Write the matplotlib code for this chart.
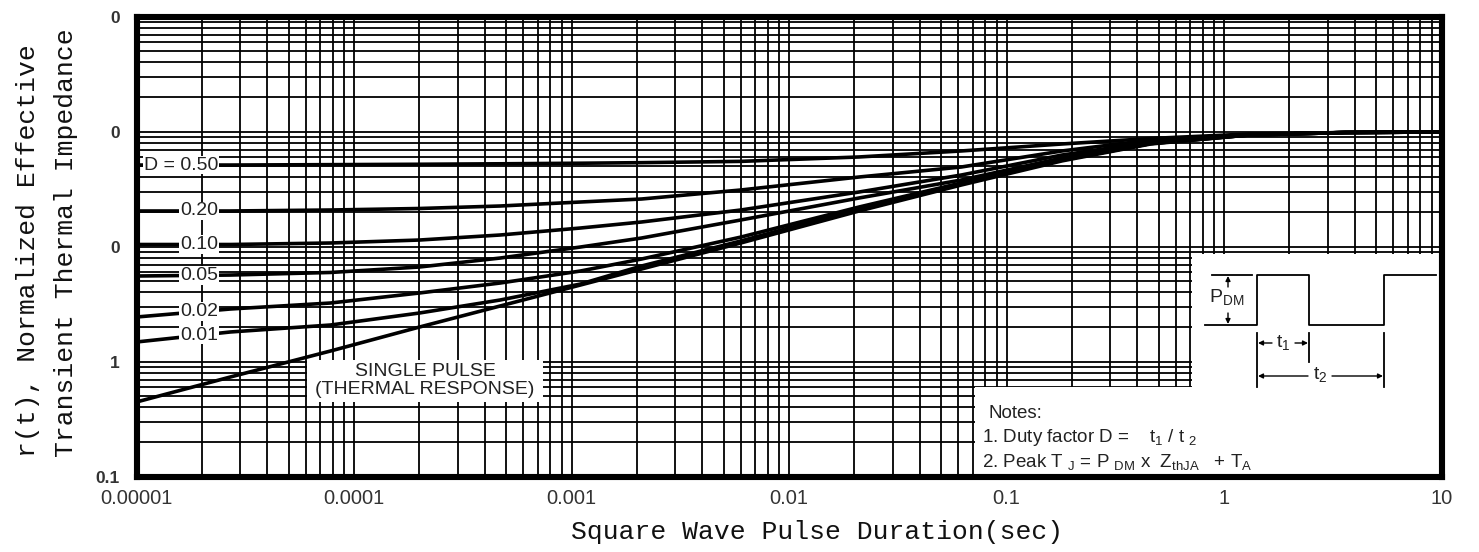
import numpy as np
import matplotlib
matplotlib.use("Agg")
import matplotlib.pyplot as plt
from matplotlib.ticker import LogLocator, NullFormatter, FixedLocator, FixedFormatter
from matplotlib.patches import Rectangle
from matplotlib.transforms import blended_transform_factory

# ---------------- data ----------------
pulse_time = [1e-5, 2.7e-5, 7.8e-5, 2e-4, 4.7e-4, 1.1e-3, 2.1e-3, 6e-3,
              2.1e-2, 6.2e-2, 0.18, 0.46, 1.3, 3.6, 10]

r_d050 = [0.513, 0.513, 0.517, 0.521, 0.526, 0.532, 0.538, 0.552,
          0.603, 0.680, 0.782, 0.873, 0.955, 0.984, 0.994]
r_d020 = [0.2044, 0.2044, 0.2085, 0.2149, 0.2259, 0.2447, 0.2599, 0.3112,
          0.4037, 0.4932, 0.680, 0.847, 0.946, 0.984, 0.994]
r_d010 = [0.1045, 0.1045, 0.1077, 0.1143, 0.1264, 0.1454, 0.1640, 0.2085,
          0.2990, 0.4202, 0.627, 0.814, 0.936, 0.984, 0.994]
r_d005 = [0.0556, 0.0567, 0.0597, 0.0666, 0.0797, 0.0994, 0.1190, 0.1707,
          0.2652, 0.3802, 0.590, 0.797, 0.936, 0.984, 0.994]
r_d002 = [0.02447, 0.02872, 0.03239, 0.03958, 0.04833, 0.06147, 0.07816, 0.1212,
          0.2214, 0.3587, 0.567, 0.789, 0.936, 0.984, 0.994]
r_d001 = [0.01484, 0.01813, 0.02085, 0.02651, 0.03440, 0.04737, 0.06795, 0.1121,
          0.2128, 0.3509, 0.567, 0.789, 0.936, 0.984, 0.994]
r_single = [0.004463, 0.007362, 0.01239, 0.02002, 0.03051, 0.04645, 0.06399, 0.1077,
            0.2044, 0.3440, 0.5574, 0.782, 0.936, 0.984, 0.994]

duty_labels = ["D = 0.50", "0.20", "0.10", "0.05", "0.02", "0.01"]
duty_series = [r_d050, r_d020, r_d010, r_d005, r_d002, r_d001]

x_tick_values = [1e-5, 1e-4, 1e-3, 1e-2, 1e-1, 1, 10]
x_tick_labels = ["0.00001", "0.0001", "0.001", "0.01", "0.1", "1", "10"]
y_tick_values = [10, 1, 0.1, 0.01, 0.001]
y_tick_labels = ["0", "0", "0", "1", "0.1"]

x_label = "Square Wave Pulse Duration(sec)"
y_label_1 = "r(t), Normalized Effective"
y_label_2 = "Transient Thermal Impedance"
single_label = ["SINGLE PULSE", "(THERMAL RESPONSE)"]
notes = ["Notes:",
         r"1. Duty factor D =    t$_\mathregular{1}$ / t $_\mathregular{2}$",
         r"2. Peak T $_\mathregular{J}$ = P $_\mathregular{DM}$ x  Z$_\mathregular{thJA}$   + T$_\mathregular{A}$"]

# ---------------- figure ----------------
W, H = 1479, 552
plt.rcParams['font.family'] = ['Liberation Sans', 'DejaVu Sans']
plt.rcParams['mathtext.fontset'] = 'custom'
plt.rcParams['mathtext.rm'] = 'Liberation Sans'
plt.rcParams['mathtext.it'] = 'Liberation Sans:italic'

fig = plt.figure(figsize=(W / 100, H / 100), dpi=100)
ax = fig.add_axes([136.5 / W, (H - 476.7) / H, 1305 / W, 460 / H])
ax.set_xscale('log')
ax.set_yscale('log')
ax.set_xlim(1e-5, 10)
ax.set_ylim(1e-3, 10)
ax.set_axisbelow(True)

for axis in (ax.xaxis, ax.yaxis):
    axis.set_minor_locator(LogLocator(base=10, subs=np.arange(2, 10), numticks=100))
    axis.set_minor_formatter(NullFormatter())
ax.xaxis.set_major_locator(FixedLocator(x_tick_values))
ax.xaxis.set_major_formatter(FixedFormatter(x_tick_labels))
ax.yaxis.set_major_locator(FixedLocator(y_tick_values))
ax.yaxis.set_major_formatter(FixedFormatter(y_tick_labels))
ax.grid(True, which='both', color='black', lw=1.3)
ax.tick_params(which='both', length=0)
ax.tick_params(axis='x', pad=9, labelsize=14.5, labelcolor='#333333')
ax.tick_params(axis='y', pad=12, labelsize=12.5, labelcolor='#333333')
for lab in ax.get_yticklabels():
    lab.set_fontweight('bold')
for sp in ax.spines.values():
    sp.set_linewidth(4.4)
    sp.set_color('black')

# white areas over the grid (notes & pulse diagram)
ax.add_patch(Rectangle((0.6425, 0), 1 - 0.6425, 0.195, transform=ax.transAxes,
                       facecolor='white', edgecolor='none', zorder=1))
ax.add_patch(Rectangle((0.8088, 0), 1 - 0.8088, 0.484, transform=ax.transAxes,
                       facecolor='white', edgecolor='none', zorder=1))

# curves
for r in duty_series + [r_single]:
    ax.plot(pulse_time, r, color='black', lw=2.6, zorder=3,
            solid_joinstyle='round', solid_capstyle='butt')

# duty labels sitting on the curves
blend = blended_transform_factory(ax.transAxes, ax.transData)
lab_x = 2.0e-5
for lab, r in zip(duty_labels, duty_series):
    ly = 10 ** np.interp(np.log10(lab_x), np.log10(pulse_time), np.log10(r))
    ax.text(0.0625, ly, lab, transform=blend, ha='right', va='center',
            fontsize=14, color='#222222', zorder=4,
            bbox=dict(facecolor='white', edgecolor='none', pad=0.6))

# ---------------- overlay in pixel coordinates ----------------
ov = fig.add_axes([0, 0, 1, 1], zorder=5)
ov.set_xlim(0, W)
ov.set_ylim(H, 0)
ov.axis('off')

# single pulse label box
ov.add_patch(Rectangle((307, 360), 236, 42, facecolor='white', edgecolor='none'))
ov.text(425, 371, single_label[0], ha='center', va='center', fontsize=14, color='#222222')
ov.text(425, 389, single_label[1], ha='center', va='center', fontsize=14, color='#222222')

# pulse diagram
lw_d = 1.3
ov.plot([1212, 1252], [275, 275], color='black', lw=lw_d)
ov.plot([1205, 1257, 1257, 1309, 1309, 1384, 1384, 1436],
        [325, 325, 275, 275, 325, 325, 275, 275], color='black', lw=lw_d)
arrow = dict(arrowstyle='-|>', lw=1.0, color='black', mutation_scale=7, shrinkA=0, shrinkB=0)
ov.annotate('', xy=(1228, 276), xytext=(1228, 287), arrowprops=arrow)
ov.annotate('', xy=(1228, 324), xytext=(1228, 313), arrowprops=arrow)
ov.text(1209, 297, r"P$_\mathregular{DM}$", ha='left', va='center', fontsize=14, color='#222222')
ov.plot([1257, 1257], [333, 387], color='black', lw=lw_d)
ov.plot([1309, 1309], [333, 362], color='black', lw=lw_d)
ov.plot([1384, 1384], [333, 387], color='black', lw=lw_d)
ov.annotate('', xy=(1258, 343), xytext=(1272, 343), arrowprops=arrow)
ov.annotate('', xy=(1308, 343), xytext=(1295, 343), arrowprops=arrow)
ov.text(1283, 342, r"t$_\mathregular{1}$", ha='center', va='center', fontsize=14, color='#222222')
ov.annotate('', xy=(1258, 376), xytext=(1308, 376), arrowprops=arrow)
ov.annotate('', xy=(1383, 376), xytext=(1332, 376), arrowprops=arrow)
ov.text(1320, 375, r"t$_\mathregular{2}$", ha='center', va='center', fontsize=14, color='#222222')

# notes
ov.text(988, 413, notes[0], ha='left', va='center', fontsize=13.5, color='#222222')
ov.text(982, 438, notes[1], ha='left', va='center', fontsize=13.5, color='#222222')
ov.text(982, 462, notes[2], ha='left', va='center', fontsize=13.5, color='#222222')

# axis titles
ov.text(817, 532, x_label, ha='center', va='center', fontsize=19,
        family='Liberation Mono', color='#111111')
ov.text(28, 457, y_label_1, rotation=90, ha='center', va='bottom', fontsize=19,
        family='Liberation Mono', color='#111111')
ov.text(66, 457, y_label_2, rotation=90, ha='center', va='bottom', fontsize=19,
        family='Liberation Mono', color='#111111')

fig.savefig("out.png", dpi=100)
